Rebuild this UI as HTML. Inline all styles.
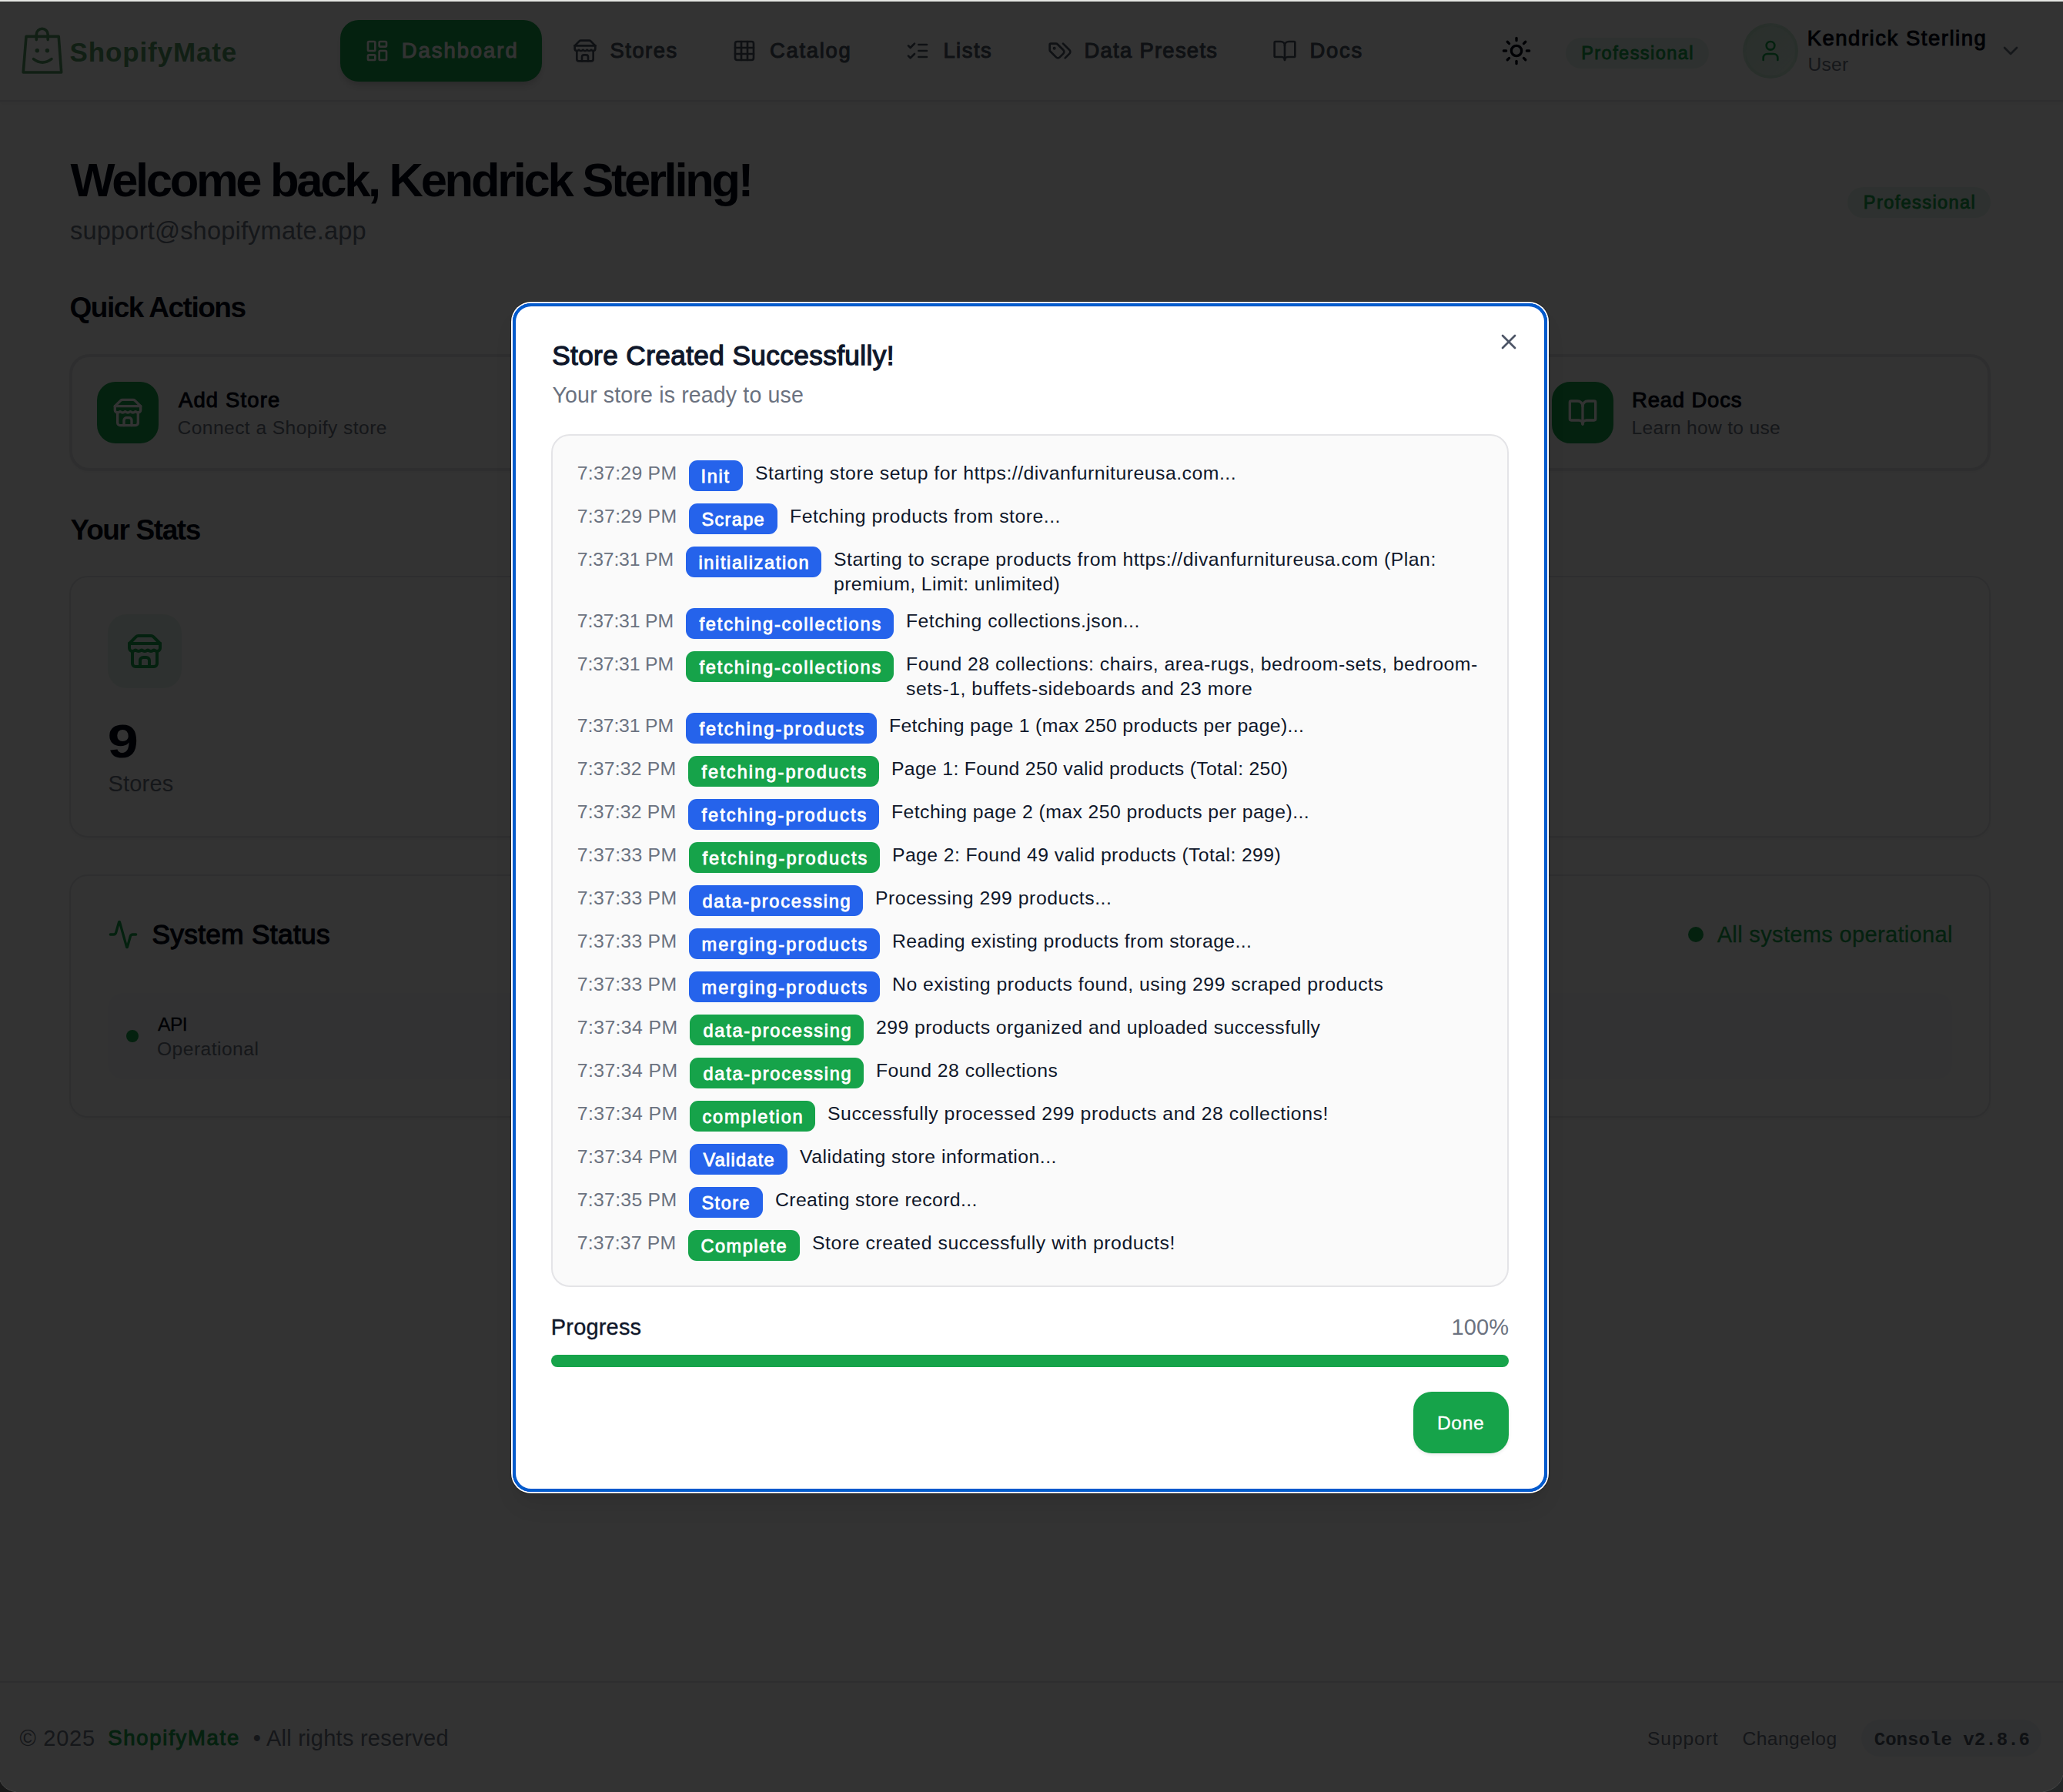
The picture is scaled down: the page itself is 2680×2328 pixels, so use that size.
<!DOCTYPE html>
<html lang="en">
<head>
<meta charset="utf-8">
<title>ShopifyMate – Dashboard</title>
<style>
*{box-sizing:border-box;margin:0;padding:0}
html,body{width:2680px;height:2328px;overflow:hidden;background:#fff}
body{font-family:"Liberation Sans", sans-serif;position:relative;color:#020817}
#app{position:absolute;left:0;top:0;width:2680px;height:2328px;overflow:hidden;background:#fff}
.t{position:absolute;white-space:nowrap;line-height:1;display:block}
.ic{position:absolute;display:block;overflow:visible}
header.top{position:absolute;left:0;top:2px;width:2680px;height:130px;border-bottom:2px solid #e5e7eb;background:#fff;box-shadow:0 2px 6px rgba(0,0,0,.06)}
.nav-item{position:absolute;top:26px;height:80px;border-radius:24px;display:block}
.nav-item.active{background:#16a34a;box-shadow:0 8px 12px -2px rgba(0,0,0,.12),0 4px 8px -4px rgba(0,0,0,.12)}
.pill{position:absolute;border-radius:999px;background:rgba(22,163,74,.1)}
.avatar{position:absolute;left:2264px;top:30px;width:72px;height:72px;border-radius:50%;background:linear-gradient(135deg,rgba(22,163,74,.2),rgba(22,163,74,.13));border:4px solid rgba(22,163,74,.07)}
.qa-card{position:absolute;top:460px;width:606px;height:152px;border:4px solid #e5e7eb;border-radius:26px;background:#fff;box-shadow:0 2px 4px rgba(0,0,0,.04)}
.qa-ic{position:absolute;top:496px;width:80px;height:80px;border-radius:24px;background:#16a34a}
.card{position:absolute;left:90px;width:2496px;border:2px solid #e5e7eb;border-radius:24px;background:#fff;box-shadow:0 2px 4px rgba(0,0,0,.05)}
.stat-ic{position:absolute;left:140px;top:798px;width:96px;height:96px;border-radius:24px;background:rgba(22,163,74,.1)}
.inner{position:absolute;left:140px;top:1290px;width:2396px;height:112px;border-radius:20px;background:rgba(241,245,249,.55)}
.dot{position:absolute;border-radius:50%;background:#16a34a}
footer.ft{position:absolute;left:0;top:2184px;width:2680px;height:144px;border-top:2px solid #e5e7eb;background:#fff}
.ver{position:absolute;left:2418px;top:2234px;width:234px;height:48px;border-radius:24px;background:#f1f5f9}
#overlay{position:absolute;left:0;top:2px;width:2680px;height:2326px;background:rgba(0,0,0,.8)}
#chrome{position:absolute;left:0;top:0;width:2680px;height:3px;background:linear-gradient(#e4e5e2 0,#e4e5e2 1px,#eff0ed 1px,#eff0ed 2px,#262626 2px,#262626 3px)}
.corner{position:absolute;bottom:0;display:block}
/* ---------- modal ---------- */
#modal{position:absolute;left:666px;top:394px;width:1344px;height:1544px;border-radius:24px;background:#fff;
  box-shadow:inset 0 0 0 1px #0052cc,inset 0 0 0 3px #005fcc,inset 0 0 0 4px #0052cc,0 0 0 2px #fff,0 0 0 3px rgba(0,0,0,.25),0 20px 30px -6px rgba(0,0,0,.1),0 8px 12px -8px rgba(0,0,0,.1)}
#logbox{position:absolute;left:716px;top:564px;width:1244px;height:1108px;border:2px solid #e4e4e7;border-radius:24px;background:#fafafa;padding:32px;overflow:hidden}
.row{display:flex;align-items:flex-start;margin-bottom:16px;font-size:24.8px;line-height:32px;white-space:nowrap}
.tm{flex:none;color:#6b7280;margin-right:16px;display:block;position:relative;top:1px}
.bd{flex:none;height:40px;line-height:40px;border-radius:11px;color:#fff;font-weight:400;font-size:23.6px;-webkit-text-stroke:0.85px #fff;margin-right:16px;display:block;padding-top:.5px}
.ms{flex:none;color:#0f172a;display:block;position:relative;top:1px}
#bar{position:absolute;left:716px;top:1760px;width:1244px;height:16px;border-radius:8px;background:#16a34a}
#done{position:absolute;left:1836px;top:1808px;width:124px;height:80px;border-radius:24px;background:#16a34a;box-shadow:0 2px 4px rgba(0,0,0,.08)}
/* fitted text */
#logoText{left:90.50px;top:50.47px;font-size:35px;font-weight:700;color:#559b64;letter-spacing:0.870px;}
#navDash{left:521.79px;top:51.81px;font-size:27.4px;font-weight:400;color:#ffffff;letter-spacing:1.981px;-webkit-text-stroke:0.99px currentColor;}
#navStores{left:792.49px;top:51.81px;font-size:27.4px;font-weight:400;color:#4b5563;letter-spacing:1.509px;-webkit-text-stroke:0.99px currentColor;}
#navCatalog{left:1000.09px;top:51.81px;font-size:27.4px;font-weight:400;color:#4b5563;letter-spacing:1.706px;-webkit-text-stroke:0.99px currentColor;}
#navLists{left:1225.39px;top:51.81px;font-size:27.4px;font-weight:400;color:#4b5563;letter-spacing:1.497px;-webkit-text-stroke:0.99px currentColor;}
#navPresets{left:1408.49px;top:51.81px;font-size:27.4px;font-weight:400;color:#4b5563;letter-spacing:1.289px;-webkit-text-stroke:0.99px currentColor;}
#navDocs{left:1701.49px;top:51.81px;font-size:27.4px;font-weight:400;color:#4b5563;letter-spacing:1.735px;-webkit-text-stroke:0.99px currentColor;}
#hdrPlan{left:2054.22px;top:57.88px;font-size:23.5px;font-weight:400;color:#16a34a;letter-spacing:1.451px;-webkit-text-stroke:0.85px currentColor;}
#userName{left:2347.69px;top:35.91px;font-size:27.4px;font-weight:400;color:#020817;letter-spacing:1.562px;-webkit-text-stroke:0.99px currentColor;}
#userRole{left:2348.50px;top:72.08px;font-size:24.6px;font-weight:400;color:#6b7280;letter-spacing:0.255px;}
#welcome{left:91.50px;top:203.14px;font-size:61.5px;font-weight:700;color:#020817;letter-spacing:-3.301px;}
#email{left:91.00px;top:283.80px;font-size:32.6px;font-weight:400;color:#6b7280;letter-spacing:0.174px;}
#plan{left:2420.82px;top:251.78px;font-size:23.5px;font-weight:400;color:#16a34a;letter-spacing:1.423px;-webkit-text-stroke:0.85px currentColor;}
#qa{left:90.50px;top:381.48px;font-size:37px;font-weight:700;color:#020817;letter-spacing:-1.491px;}
#addStore{left:231.99px;top:506.31px;font-size:27.4px;font-weight:400;color:#020817;letter-spacing:1.192px;-webkit-text-stroke:0.99px currentColor;}
#addStoreSub{left:230.50px;top:543.78px;font-size:24.6px;font-weight:400;color:#6b7280;letter-spacing:0.431px;}
#readDocs{left:2119.99px;top:505.71px;font-size:27.4px;font-weight:400;color:#020817;letter-spacing:0.877px;-webkit-text-stroke:0.99px currentColor;}
#readDocsSub{left:2119.50px;top:543.98px;font-size:24.6px;font-weight:400;color:#6b7280;letter-spacing:0.300px;}
#stats{left:91.60px;top:670.08px;font-size:37px;font-weight:700;color:#020817;letter-spacing:-1.390px;}
#statNum{left:139.80px;top:931.84px;font-size:61.5px;font-weight:700;color:#020817;letter-spacing:0.000px;transform:scaleX(1.173);transform-origin:2.00px 0;}
#statLbl{left:140.50px;top:1003.55px;font-size:29px;font-weight:400;color:#6b7280;letter-spacing:0.177px;}
#sys{left:197.43px;top:1196.27px;font-size:35.2px;font-weight:400;color:#020817;letter-spacing:0.357px;-webkit-text-stroke:1.27px currentColor;}
#sysOk{left:2230.70px;top:1200.45px;font-size:29px;font-weight:400;color:#16a34a;letter-spacing:0.344px;-webkit-text-stroke:.3px currentColor;}
#api{left:205.00px;top:1318.58px;font-size:24.6px;font-weight:400;color:#020817;letter-spacing:-0.504px;-webkit-text-stroke:.3px currentColor;}
#apiSt{left:204.00px;top:1350.58px;font-size:24.6px;font-weight:400;color:#6b7280;letter-spacing:0.472px;}
#ftCopy{left:25.40px;top:2243.55px;font-size:29px;font-weight:400;color:#6b7280;letter-spacing:0.758px;}
#ftBrand{left:140.29px;top:2244.41px;font-size:27.4px;font-weight:400;color:#16a34a;letter-spacing:1.769px;-webkit-text-stroke:0.99px currentColor;}
#ftRights{left:328.80px;top:2243.55px;font-size:29px;font-weight:400;color:#6b7280;letter-spacing:0.252px;}
#ftSupport{left:2140.00px;top:2246.58px;font-size:24.6px;font-weight:400;color:#6b7280;letter-spacing:0.916px;}
#ftChangelog{left:2263.40px;top:2246.58px;font-size:24.6px;font-weight:400;color:#6b7280;letter-spacing:0.476px;}
#ftVer{left:2434.70px;top:2248.50px;font-size:24px;font-weight:700;color:#4b5563;letter-spacing:0.052px;font-family:"Liberation Mono", monospace;}
#mTitle{left:717.13px;top:444.47px;font-size:35.2px;font-weight:400;color:#0f172a;letter-spacing:0.390px;-webkit-text-stroke:1.27px currentColor;}
#mDesc{left:717.50px;top:498.79px;font-size:28.6px;font-weight:400;color:#6b7280;letter-spacing:0.129px;}
#mProg{left:715.80px;top:1710.05px;font-size:29px;font-weight:400;color:#0f172a;letter-spacing:0.180px;-webkit-text-stroke:.35px currentColor;}
#mPct{left:1885.50px;top:1710.05px;font-size:29px;font-weight:400;color:#6b7280;letter-spacing:0.105px;}
#mDone{left:1867.00px;top:1836.98px;font-size:24.6px;font-weight:400;color:#ffffff;letter-spacing:0.594px;-webkit-text-stroke:.35px currentColor;}
#tm0{width:129px;letter-spacing:0.271px;text-indent:-0.20px}
#bd0{width:70px;letter-spacing:1.744px;text-indent:15.42px;background:#2563eb}
#ms0_0{letter-spacing:0.496px}
#tm1{width:129px;letter-spacing:0.271px;text-indent:-0.20px}
#bd1{width:115px;letter-spacing:1.303px;text-indent:16.42px;background:#2563eb}
#ms1_0{letter-spacing:0.507px}
#tm2{width:125px;letter-spacing:-0.174px;text-indent:-0.20px}
#bd2{width:176px;letter-spacing:1.639px;text-indent:16.42px;background:#2563eb}
#ms2_0{letter-spacing:0.478px}
#ms2_1{letter-spacing:0.400px}
#tm3{width:125px;letter-spacing:-0.174px;text-indent:-0.20px}
#bd3{width:270px;letter-spacing:1.858px;text-indent:17.42px;background:#2563eb}
#ms3_0{letter-spacing:0.462px}
#tm4{width:125px;letter-spacing:-0.174px;text-indent:-0.20px}
#bd4{width:270px;letter-spacing:1.858px;text-indent:17.42px;background:#16a34a}
#ms4_0{letter-spacing:0.479px}
#ms4_1{letter-spacing:0.508px}
#tm5{width:125px;letter-spacing:-0.174px;text-indent:-0.20px}
#bd5{width:248px;letter-spacing:2.060px;text-indent:17.42px;background:#2563eb}
#ms5_0{letter-spacing:0.335px}
#tm6{width:128px;letter-spacing:0.160px;text-indent:-0.20px}
#bd6{width:248px;letter-spacing:2.060px;text-indent:17.42px;background:#16a34a}
#ms6_0{letter-spacing:0.302px}
#tm7{width:128px;letter-spacing:0.160px;text-indent:-0.20px}
#bd7{width:248px;letter-spacing:2.060px;text-indent:17.42px;background:#2563eb}
#ms7_0{letter-spacing:0.420px}
#tm8{width:129px;letter-spacing:0.271px;text-indent:-0.20px}
#bd8{width:248px;letter-spacing:2.060px;text-indent:17.42px;background:#16a34a}
#ms8_0{letter-spacing:0.390px}
#tm9{width:129px;letter-spacing:0.271px;text-indent:-0.20px}
#bd9{width:226px;letter-spacing:1.743px;text-indent:17.42px;background:#2563eb}
#ms9_0{letter-spacing:0.532px}
#tm10{width:129px;letter-spacing:0.271px;text-indent:-0.20px}
#bd10{width:248px;letter-spacing:2.091px;text-indent:16.42px;background:#2563eb}
#ms10_0{letter-spacing:0.370px}
#tm11{width:129px;letter-spacing:0.271px;text-indent:-0.20px}
#bd11{width:248px;letter-spacing:2.091px;text-indent:16.42px;background:#2563eb}
#ms11_0{letter-spacing:0.486px}
#tm12{width:130px;letter-spacing:0.382px;text-indent:-0.20px}
#bd12{width:226px;letter-spacing:1.743px;text-indent:17.42px;background:#16a34a}
#ms12_0{letter-spacing:0.427px}
#tm13{width:130px;letter-spacing:0.382px;text-indent:-0.20px}
#bd13{width:226px;letter-spacing:1.743px;text-indent:17.42px;background:#16a34a}
#ms13_0{letter-spacing:0.440px}
#tm14{width:130px;letter-spacing:0.382px;text-indent:-0.20px}
#bd14{width:163px;letter-spacing:1.797px;text-indent:16.42px;background:#16a34a}
#ms14_0{letter-spacing:0.530px}
#tm15{width:130px;letter-spacing:0.382px;text-indent:-0.20px}
#bd15{width:127px;letter-spacing:1.252px;text-indent:17.42px;background:#2563eb}
#ms15_0{letter-spacing:0.469px}
#tm16{width:129px;letter-spacing:0.271px;text-indent:-0.20px}
#bd16{width:96px;letter-spacing:1.470px;text-indent:16.42px;background:#2563eb}
#ms16_0{letter-spacing:0.387px}
#tm17{width:128px;letter-spacing:0.160px;text-indent:-0.20px}
#bd17{width:145px;letter-spacing:1.471px;text-indent:16.42px;background:#16a34a}
#ms17_0{letter-spacing:0.552px}
</style>
</head>
<body>
<div id="app">
  <header class="top"></header>
  <svg class="ic" style="left:24px;top:32px" width="62" height="68" viewBox="0 0 62 68" fill="none" stroke="#559b64" stroke-width="3.6" stroke-linecap="round" stroke-linejoin="round">
    <path d="M10 15.4H52.2L55.7 62H6.2Z"/><path d="M23.3 19.6V12.75a7.45 7.45 0 0 1 14.9 0V19.6"/>
    <circle cx="24.3" cy="33.8" r="2.7" fill="#559b64" stroke="none"/><circle cx="37.4" cy="33.8" r="2.7" fill="#559b64" stroke="none"/>
    <path d="M19.5 44.6Q31 53.6 43 44.6"/>
  </svg>
  <span class="t" id="logoText">ShopifyMate</span>
  <nav>
    <a class="nav-item active" style="left:442px;width:262px"></a><svg class="ic " style="left:474px;top:50px;color:#ffffff" width="32" height="32" viewBox="0 0 24 24" fill="none" stroke="currentColor" stroke-width="2" stroke-linecap="round" stroke-linejoin="round"><rect width="7" height="9" x="3" y="3" rx="1"/><rect width="7" height="5" x="14" y="3" rx="1"/><rect width="7" height="9" x="14" y="12" rx="1"/><rect width="7" height="5" x="3" y="16" rx="1"/></svg><span class="t" id="navDash">Dashboard</span>
    <a class="nav-item" style="left:712px;width:199px"></a><svg class="ic " style="left:744px;top:50px;color:#4b5563" width="32" height="32" viewBox="0 0 24 24" fill="none" stroke="currentColor" stroke-width="2" stroke-linecap="round" stroke-linejoin="round"><path d="m2 7 4.41-4.41A2 2 0 0 1 7.83 2h8.34a2 2 0 0 1 1.42.59L22 7"/><path d="M4 12v8a2 2 0 0 0 2 2h12a2 2 0 0 0 2-2v-8"/><path d="M15 22v-4a2 2 0 0 0-2-2h-2a2 2 0 0 0-2 2v4"/><path d="M2 7h20"/><path d="M22 7v3a2 2 0 0 1-2 2a2.7 2.7 0 0 1-1.59-.63.7.7 0 0 0-.82 0A2.7 2.7 0 0 1 16 12a2.7 2.7 0 0 1-1.59-.63.7.7 0 0 0-.82 0A2.7 2.7 0 0 1 12 12a2.7 2.7 0 0 1-1.59-.63.7.7 0 0 0-.82 0A2.7 2.7 0 0 1 8 12a2.7 2.7 0 0 1-1.59-.63.7.7 0 0 0-.82 0A2.7 2.7 0 0 1 4 12a2 2 0 0 1-2-2V7"/></svg><span class="t" id="navStores">Stores</span>
    <a class="nav-item" style="left:919px;width:217px"></a><svg class="ic " style="left:951px;top:50px;color:#4b5563" width="32" height="32" viewBox="0 0 24 24" fill="none" stroke="currentColor" stroke-width="2" stroke-linecap="round" stroke-linejoin="round"><rect width="18" height="18" x="3" y="3" rx="2"/><path d="M3 9h18"/><path d="M3 15h18"/><path d="M9 3v18"/><path d="M15 3v18"/></svg><span class="t" id="navCatalog">Catalog</span>
    <a class="nav-item" style="left:1144px;width:177px"></a><svg class="ic " style="left:1176px;top:50px;color:#4b5563" width="32" height="32" viewBox="0 0 24 24" fill="none" stroke="currentColor" stroke-width="2" stroke-linecap="round" stroke-linejoin="round"><path d="m3 17 2 2 4-4"/><path d="m3 7 2 2 4-4"/><path d="M13 6h8"/><path d="M13 12h8"/><path d="M13 18h8"/></svg><span class="t" id="navLists">Lists</span>
    <a class="nav-item" style="left:1329px;width:284px"></a><svg class="ic " style="left:1361px;top:50px;color:#4b5563" width="32" height="32" viewBox="0 0 24 24" fill="none" stroke="currentColor" stroke-width="2" stroke-linecap="round" stroke-linejoin="round"><path d="m15 5 6.3 6.3a2.4 2.4 0 0 1 0 3.4L17 19"/><path d="M9.586 5.586A2 2 0 0 0 8.172 5H3a1 1 0 0 0-1 1v5.172a2 2 0 0 0 .586 1.414L8.29 18.29a2.426 2.426 0 0 0 3.42 0l3.58-3.58a2.426 2.426 0 0 0 0-3.42z"/><circle cx="6.5" cy="9.5" r=".5" fill="currentColor"/></svg><span class="t" id="navPresets">Data Presets</span>
    <a class="nav-item" style="left:1621px;width:180px"></a><svg class="ic " style="left:1653px;top:50px;color:#4b5563" width="32" height="32" viewBox="0 0 24 24" fill="none" stroke="currentColor" stroke-width="2" stroke-linecap="round" stroke-linejoin="round"><path d="M12 7v14"/><path d="M3 18a1 1 0 0 1-1-1V4a1 1 0 0 1 1-1h5a4 4 0 0 1 4 4 4 4 0 0 1 4-4h5a1 1 0 0 1 1 1v13a1 1 0 0 1-1 1h-6a3 3 0 0 0-3 3 3 3 0 0 0-3-3z"/></svg><span class="t" id="navDocs">Docs</span>
  </nav>
  <svg class="ic " style="left:1950px;top:46px;color:#020817" width="40" height="40" viewBox="0 0 24 24" fill="none" stroke="currentColor" stroke-width="2" stroke-linecap="round" stroke-linejoin="round"><circle cx="12" cy="12" r="4"/><path d="M12 2v2"/><path d="M12 20v2"/><path d="m4.93 4.93 1.41 1.41"/><path d="m17.66 17.66 1.41 1.41"/><path d="M2 12h2"/><path d="M20 12h2"/><path d="m6.34 17.66-1.41 1.41"/><path d="m19.07 4.93-1.41 1.41"/></svg>
  <div class="pill" style="left:2034px;top:49px;width:186px;height:40px"></div><span class="t" id="hdrPlan">Professional</span>
  <div class="avatar"></div><svg class="ic " style="left:2284px;top:50px;color:#16a34a" width="32" height="32" viewBox="0 0 24 24" fill="none" stroke="currentColor" stroke-width="2" stroke-linecap="round" stroke-linejoin="round"><path d="M19 21v-2a4 4 0 0 0-4-4H9a4 4 0 0 0-4 4v2"/><circle cx="12" cy="7" r="4"/></svg>
  <span class="t" id="userName">Kendrick Sterling</span><span class="t" id="userRole">User</span>
  <svg class="ic " style="left:2596px;top:50px;color:#6b7280" width="32" height="32" viewBox="0 0 24 24" fill="none" stroke="currentColor" stroke-width="2" stroke-linecap="round" stroke-linejoin="round"><path d="m6 9 6 6 6-6"/></svg>

  <main>
    <h1><span class="t" id="welcome">Welcome back, Kendrick Sterling!</span></h1>
    <span class="t" id="email">support@shopifymate.app</span>
    <div class="pill" style="left:2400px;top:243px;width:186px;height:40px"></div><span class="t" id="plan">Professional</span>
    <h2><span class="t" id="qa">Quick Actions</span></h2>
    <div class="qa-card" style="left:90px"></div><div class="qa-ic" style="left:126px"></div><svg class="ic " style="left:146px;top:516px;color:#ffffff" width="40" height="40" viewBox="0 0 24 24" fill="none" stroke="currentColor" stroke-width="2" stroke-linecap="round" stroke-linejoin="round"><path d="m2 7 4.41-4.41A2 2 0 0 1 7.83 2h8.34a2 2 0 0 1 1.42.59L22 7"/><path d="M4 12v8a2 2 0 0 0 2 2h12a2 2 0 0 0 2-2v-8"/><path d="M15 22v-4a2 2 0 0 0-2-2h-2a2 2 0 0 0-2 2v4"/><path d="M2 7h20"/><path d="M22 7v3a2 2 0 0 1-2 2a2.7 2.7 0 0 1-1.59-.63.7.7 0 0 0-.82 0A2.7 2.7 0 0 1 16 12a2.7 2.7 0 0 1-1.59-.63.7.7 0 0 0-.82 0A2.7 2.7 0 0 1 12 12a2.7 2.7 0 0 1-1.59-.63.7.7 0 0 0-.82 0A2.7 2.7 0 0 1 8 12a2.7 2.7 0 0 1-1.59-.63.7.7 0 0 0-.82 0A2.7 2.7 0 0 1 4 12a2 2 0 0 1-2-2V7"/></svg><span class="t" id="addStore">Add Store</span><span class="t" id="addStoreSub">Connect a Shopify store</span>
    <div class="qa-card" style="left:720px"></div><div class="qa-card" style="left:1350px"></div>
    <div class="qa-card" style="left:1980px"></div><div class="qa-ic" style="left:2016px"></div><svg class="ic " style="left:2036px;top:516px;color:#ffffff" width="40" height="40" viewBox="0 0 24 24" fill="none" stroke="currentColor" stroke-width="2" stroke-linecap="round" stroke-linejoin="round"><path d="M12 7v14"/><path d="M3 18a1 1 0 0 1-1-1V4a1 1 0 0 1 1-1h5a4 4 0 0 1 4 4 4 4 0 0 1 4-4h5a1 1 0 0 1 1 1v13a1 1 0 0 1-1 1h-6a3 3 0 0 0-3 3 3 3 0 0 0-3-3z"/></svg><span class="t" id="readDocs">Read Docs</span><span class="t" id="readDocsSub">Learn how to use</span>
    <h2><span class="t" id="stats">Your Stats</span></h2>
    <div class="card" style="top:748px;height:340px"></div>
    <div class="stat-ic"></div><svg class="ic " style="left:164px;top:822px;color:#16a34a" width="48" height="48" viewBox="0 0 24 24" fill="none" stroke="currentColor" stroke-width="2" stroke-linecap="round" stroke-linejoin="round"><path d="m2 7 4.41-4.41A2 2 0 0 1 7.83 2h8.34a2 2 0 0 1 1.42.59L22 7"/><path d="M4 12v8a2 2 0 0 0 2 2h12a2 2 0 0 0 2-2v-8"/><path d="M15 22v-4a2 2 0 0 0-2-2h-2a2 2 0 0 0-2 2v4"/><path d="M2 7h20"/><path d="M22 7v3a2 2 0 0 1-2 2a2.7 2.7 0 0 1-1.59-.63.7.7 0 0 0-.82 0A2.7 2.7 0 0 1 16 12a2.7 2.7 0 0 1-1.59-.63.7.7 0 0 0-.82 0A2.7 2.7 0 0 1 12 12a2.7 2.7 0 0 1-1.59-.63.7.7 0 0 0-.82 0A2.7 2.7 0 0 1 8 12a2.7 2.7 0 0 1-1.59-.63.7.7 0 0 0-.82 0A2.7 2.7 0 0 1 4 12a2 2 0 0 1-2-2V7"/></svg>
    <span class="t" id="statNum">9</span><span class="t" id="statLbl">Stores</span>
    <div class="card" style="top:1136px;height:316px"></div>
    <svg class="ic " style="left:140px;top:1194px;color:#16a34a" width="40" height="40" viewBox="0 0 24 24" fill="none" stroke="currentColor" stroke-width="2" stroke-linecap="round" stroke-linejoin="round"><path d="M22 12h-2.48a2 2 0 0 0-1.93 1.46l-2.35 8.36a.25.25 0 0 1-.48 0L9.24 2.18a.25.25 0 0 0-.48 0l-2.35 8.36A2 2 0 0 1 4.49 12H2"/></svg>
    <h3><span class="t" id="sys">System Status</span></h3>
    <div class="dot" style="left:2193px;top:1204px;width:20px;height:20px"></div><span class="t" id="sysOk">All systems operational</span>
    <div class="inner"></div>
    <div class="dot" style="left:164px;top:1338px;width:16px;height:16px"></div>
    <span class="t" id="api">API</span><span class="t" id="apiSt">Operational</span>
  </main>

  <footer class="ft"></footer>
  <span class="t" id="ftCopy">© 2025</span><span class="t" id="ftBrand">ShopifyMate</span><span class="t" id="ftRights">• All rights reserved</span>
  <span class="t" id="ftSupport">Support</span><span class="t" id="ftChangelog">Changelog</span>
  <div class="ver"></div><span class="t" id="ftVer">Console v2.8.6</span>
</div>

<div id="overlay"></div>

<div id="modal" role="dialog"></div>
<h2><span class="t" id="mTitle">Store Created Successfully!</span></h2>
<span class="t" id="mDesc">Your store is ready to use</span>
<svg class="ic " style="left:1944px;top:428px;color:#4d5566" width="32" height="32" viewBox="0 0 24 24" fill="none" stroke="currentColor" stroke-width="2" stroke-linecap="round" stroke-linejoin="round"><path d="M18 6 6 18"/><path d="m6 6 12 12"/></svg>
<div id="logbox">
<div class="row"><span class="tm" id="tm0">7:37:29 PM</span><span class="bd" id="bd0">Init</span><span class="ms"><span id="ms0_0">Starting store setup for https://divanfurnitureusa.com...</span></span></div>
<div class="row"><span class="tm" id="tm1">7:37:29 PM</span><span class="bd" id="bd1">Scrape</span><span class="ms"><span id="ms1_0">Fetching products from store...</span></span></div>
<div class="row"><span class="tm" id="tm2">7:37:31 PM</span><span class="bd" id="bd2">initialization</span><span class="ms"><span id="ms2_0">Starting to scrape products from https://divanfurnitureusa.com (Plan:</span><br><span id="ms2_1">premium, Limit: unlimited)</span></span></div>
<div class="row"><span class="tm" id="tm3">7:37:31 PM</span><span class="bd" id="bd3">fetching-collections</span><span class="ms"><span id="ms3_0">Fetching collections.json...</span></span></div>
<div class="row"><span class="tm" id="tm4">7:37:31 PM</span><span class="bd" id="bd4">fetching-collections</span><span class="ms"><span id="ms4_0">Found 28 collections: chairs, area-rugs, bedroom-sets, bedroom-</span><br><span id="ms4_1">sets-1, buffets-sideboards and 23 more</span></span></div>
<div class="row"><span class="tm" id="tm5">7:37:31 PM</span><span class="bd" id="bd5">fetching-products</span><span class="ms"><span id="ms5_0">Fetching page 1 (max 250 products per page)...</span></span></div>
<div class="row"><span class="tm" id="tm6">7:37:32 PM</span><span class="bd" id="bd6">fetching-products</span><span class="ms"><span id="ms6_0">Page 1: Found 250 valid products (Total: 250)</span></span></div>
<div class="row"><span class="tm" id="tm7">7:37:32 PM</span><span class="bd" id="bd7">fetching-products</span><span class="ms"><span id="ms7_0">Fetching page 2 (max 250 products per page)...</span></span></div>
<div class="row"><span class="tm" id="tm8">7:37:33 PM</span><span class="bd" id="bd8">fetching-products</span><span class="ms"><span id="ms8_0">Page 2: Found 49 valid products (Total: 299)</span></span></div>
<div class="row"><span class="tm" id="tm9">7:37:33 PM</span><span class="bd" id="bd9">data-processing</span><span class="ms"><span id="ms9_0">Processing 299 products...</span></span></div>
<div class="row"><span class="tm" id="tm10">7:37:33 PM</span><span class="bd" id="bd10">merging-products</span><span class="ms"><span id="ms10_0">Reading existing products from storage...</span></span></div>
<div class="row"><span class="tm" id="tm11">7:37:33 PM</span><span class="bd" id="bd11">merging-products</span><span class="ms"><span id="ms11_0">No existing products found, using 299 scraped products</span></span></div>
<div class="row"><span class="tm" id="tm12">7:37:34 PM</span><span class="bd" id="bd12">data-processing</span><span class="ms"><span id="ms12_0">299 products organized and uploaded successfully</span></span></div>
<div class="row"><span class="tm" id="tm13">7:37:34 PM</span><span class="bd" id="bd13">data-processing</span><span class="ms"><span id="ms13_0">Found 28 collections</span></span></div>
<div class="row"><span class="tm" id="tm14">7:37:34 PM</span><span class="bd" id="bd14">completion</span><span class="ms"><span id="ms14_0">Successfully processed 299 products and 28 collections!</span></span></div>
<div class="row"><span class="tm" id="tm15">7:37:34 PM</span><span class="bd" id="bd15">Validate</span><span class="ms"><span id="ms15_0">Validating store information...</span></span></div>
<div class="row"><span class="tm" id="tm16">7:37:35 PM</span><span class="bd" id="bd16">Store</span><span class="ms"><span id="ms16_0">Creating store record...</span></span></div>
<div class="row"><span class="tm" id="tm17">7:37:37 PM</span><span class="bd" id="bd17">Complete</span><span class="ms"><span id="ms17_0">Store created successfully with products!</span></span></div>
</div>
<span class="t" id="mProg">Progress</span><span class="t" id="mPct">100%</span>
<div id="bar"></div>
<div id="done"></div><span class="t" id="mDone">Done</span>

<div id="chrome"></div>
<svg class="corner" style="left:0" width="28" height="28" viewBox="0 0 28 28"><path d="M0 12.6C2.5 20.5 10 26.5 21.4 28H0Z" fill="#181818"/><path d="M0 12.6C2.5 20.5 10 26.5 21.4 28" fill="none" stroke="#454545" stroke-width="1"/></svg>
<svg class="corner" style="right:0" width="28" height="28" viewBox="0 0 28 28"><path d="M28 5.8C25.5 17 17 25.5 1.5 28H28Z" fill="#232526"/><path d="M28 5.8C25.5 17 17 25.5 1.5 28" fill="none" stroke="#454545" stroke-width="1"/></svg>
</body>
</html>
